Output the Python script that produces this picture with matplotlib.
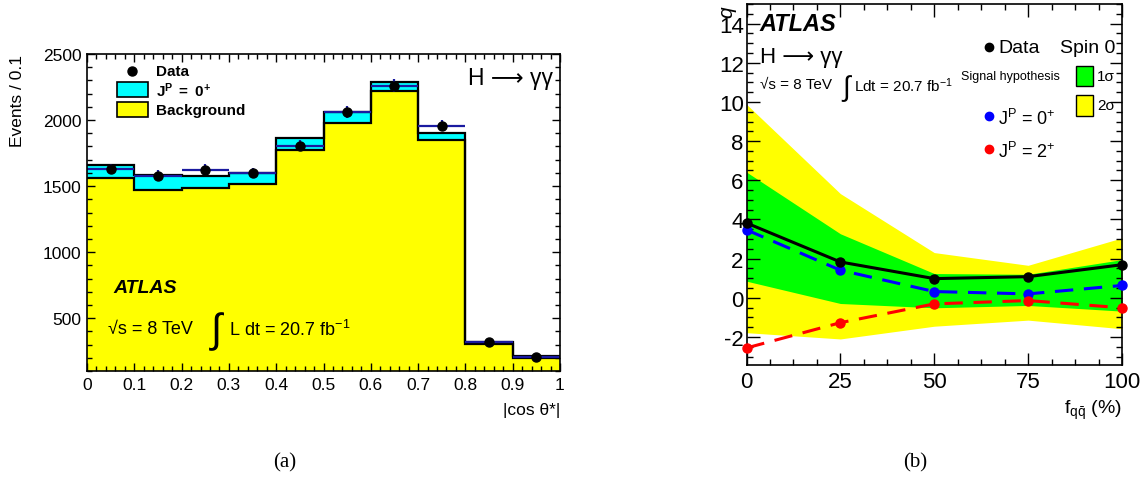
import numpy as np
import matplotlib
matplotlib.use("Agg")
import matplotlib.pyplot as plt
from matplotlib.ticker import MultipleLocator

plt.rcParams['font.family'] = ['Liberation Sans', 'DejaVu Sans']
plt.rcParams['mathtext.fontset'] = 'custom'
plt.rcParams['mathtext.rm'] = 'Liberation Sans'
plt.rcParams['mathtext.it'] = 'Liberation Sans:italic'
plt.rcParams['mathtext.bf'] = 'Liberation Sans:bold'
plt.rcParams['axes.unicode_minus'] = False

# (a) |cos theta*| distribution
bin_edges = np.linspace(0, 1, 11)
background = [1559, 1469, 1484, 1514, 1774, 1975, 2218, 1852, 303, 197]
signal_0p = [104, 115, 95, 88, 90, 84, 73, 48, 15, 15]
data_a = [1630, 1580, 1625, 1600, 1806, 2059, 2260, 1958, 318, 205]

# (b) q vs f_qqbar
f_qq = [0, 25, 50, 75, 100]
q_data = [3.82, 1.83, 0.98, 1.08, 1.69]
q_0p = [3.47, 1.41, 0.32, 0.20, 0.63]
q_2p = [-2.56, -1.27, -0.31, -0.14, -0.51]
sig1_hi = [6.42, 3.27, 1.24, 1.20, 1.95]
sig1_lo = [0.85, -0.29, -0.51, -0.39, -0.68]
sig2_hi = [9.88, 5.32, 2.31, 1.66, 3.06]
sig2_lo = [-1.78, -2.10, -1.45, -1.14, -1.58]

W, H = 1147, 481
fig = plt.figure(figsize=(W / 100, H / 100), dpi=100)


def px_axes(x0, y0, x1, y1):
    return fig.add_axes([x0 / W, 1 - y1 / H, (x1 - x0) / W, (y1 - y0) / H])


def root_ticks(ax, fs, maj, mnr):
    ax.tick_params(which='both', direction='in', top=True, right=True, labelsize=fs, width=1.0)
    ax.tick_params(which='major', length=maj, pad=4)
    ax.tick_params(which='minor', length=mnr)
    for s in ax.spines.values():
        s.set_linewidth(1.2)


# ---------- left panel ----------
ax1 = px_axes(87, 55, 560, 372)
total = np.array(background) + np.array(signal_0p)
ax1.stairs(total, bin_edges, fill=True, color='#00ffff', baseline=0)
ax1.stairs(background, bin_edges, fill=True, color='#ffff00', baseline=0)
ax1.stairs(total, bin_edges, color='black', lw=1.6, baseline=None)
ax1.stairs(background, bin_edges, color='black', lw=1.6, baseline=None)
centers = 0.5 * (bin_edges[:-1] + bin_edges[1:])
ax1.errorbar(centers, data_a, xerr=0.05, yerr=np.sqrt(data_a), fmt='none',
             ecolor='#1a1aa0', elinewidth=1.6, capsize=0)
ax1.plot(centers, data_a, 'o', color='black', ms=6.5)
ax1.set_xlim(0, 1)
ax1.set_ylim(100, 2500)
ax1.xaxis.set_minor_locator(MultipleLocator(0.02))
ax1.yaxis.set_minor_locator(MultipleLocator(100))
ax1.set_xticks(np.round(np.arange(0, 1.01, 0.1), 1))
ax1.set_xticklabels(['0', '0.1', '0.2', '0.3', '0.4', '0.5', '0.6', '0.7', '0.8', '0.9', '1'])
ax1.set_yticks([500, 1000, 1500, 2000, 2500])
root_ticks(ax1, 12.5, 6, 3.5)

fig.text(560 / W, 1 - 410 / H, '|cos θ*|', ha='right', va='center', fontsize=12.5)
fig.text(18 / W, 1 - 55 / H, 'Events / 0.1', rotation=90, ha='center', va='top', fontsize=12.5)

# legend (a)
ax1.plot([0.095], [2372], 'o', color='black', ms=6.5)
ax1.text(0.145, 2372, 'Data', fontsize=11, fontweight='bold', va='center')
for yc, col, lab in [(2229, '#00ffff', r'$\mathbf{J^{P}\ =\ 0^{+}}$'), (2078, '#ffff00', 'Background')]:
    ax1.add_patch(plt.Rectangle((0.063, yc - 57), 0.066, 114, facecolor=col, edgecolor='black', lw=1.2))
    ax1.text(0.145, yc, lab, fontsize=11, fontweight='bold', va='center')
ax1.text(0.985, 2320, 'H ⟶ γγ', fontsize=16.5, ha='right', va='center')
ax1.text(0.055, 730, 'ATLAS', fontsize=14, fontweight='bold', style='italic', va='center')
ax1.text(0.045, 420, '√s = 8 TeV', fontsize=13, va='center')
ax1.text(0.262, 405, '∫', fontsize=29, va='center')
ax1.text(0.3, 420, r'L dt = 20.7 fb$^{-1}$', fontsize=13, va='center')

# ---------- right panel ----------
ax2 = px_axes(746.5, 5, 1122, 366)
ax2.fill_between(f_qq, sig2_lo, sig2_hi, color='#ffff00', lw=0)
ax2.fill_between(f_qq, sig1_lo, sig1_hi, color='#00ff00', lw=0)
ax2.plot(f_qq, q_data, '-o', color='black', lw=2.2, ms=6.5, clip_on=False, zorder=5)
ax2.plot(f_qq, q_0p, '--o', color='#0000ff', lw=2.2, ms=6.5, dashes=(6, 3.5), clip_on=False, zorder=4)
ax2.plot(f_qq, q_2p, '--o', color='#ff0000', lw=2.2, ms=6.5, dashes=(6, 3.5), clip_on=False, zorder=4)
ax2.set_xlim(0, 100)
ax2.set_ylim(-3.43, 15)
ax2.xaxis.set_major_locator(MultipleLocator(25))
ax2.xaxis.set_minor_locator(MultipleLocator(6.25))
ax2.yaxis.set_major_locator(MultipleLocator(2))
ax2.yaxis.set_minor_locator(MultipleLocator(0.5))
root_ticks(ax2, 16, 9, 4.5)
ax2.tick_params(axis='y', pad=2)

fig.text(1122 / W, 1 - 410 / H, r'f$_{\mathregular{q\bar{q}}}$ (%)', ha='right', va='center', fontsize=14)
fig.text(727 / W, 1 - 12 / H, 'q', rotation=90, ha='center', va='center', fontsize=15, style='italic')

ax2.text(3.5, 14.0, 'ATLAS', fontsize=17, fontweight='bold', style='italic', va='center')
ax2.text(3.5, 12.3, 'H ⟶ γγ', fontsize=16, va='center')
ax2.text(3.5, 10.9, '√s = 8 TeV', fontsize=11, va='center')
ax2.text(25.5, 10.75, '∫', fontsize=20, va='center')
ax2.text(28.5, 10.9, r'Ldt = 20.7 fb$^{-1}$', fontsize=11, va='center')

ax2.plot([64.5], [12.8], 'o', color='black', ms=6)
ax2.text(67, 12.8, 'Data', fontsize=14, va='center')
ax2.text(83.5, 12.8, 'Spin 0', fontsize=14, va='center')
ax2.text(57, 11.3, 'Signal hypothesis', fontsize=9, va='center')
ax2.add_patch(plt.Rectangle((87.8, 10.8), 4.5, 1.05, facecolor='#00ff00', edgecolor='black', lw=1.0))
ax2.text(93.3, 11.3, '1σ', fontsize=11, va='center')
ax2.add_patch(plt.Rectangle((87.8, 9.3), 4.5, 1.05, facecolor='#ffff00', edgecolor='black', lw=1.0))
ax2.text(93.3, 9.85, '2σ', fontsize=11, va='center')
ax2.plot([64.5], [9.3], 'o', color='#0000ff', ms=6)
ax2.text(67, 9.2, r'J$^{\mathregular{P}}$ = 0$^{+}$', fontsize=13, va='center')
ax2.plot([64.5], [7.6], 'o', color='#ff0000', ms=6)
ax2.text(67, 7.5, r'J$^{\mathregular{P}}$ = 2$^{+}$', fontsize=13, va='center')

# captions
fig.text(285 / W, 1 - 463 / H, '(a)', fontsize=15, family='Liberation Serif', ha='center', va='center')
fig.text(915 / W, 1 - 463 / H, '(b)', fontsize=15, family='Liberation Serif', ha='center', va='center')

fig.savefig('out.png', dpi=100)
